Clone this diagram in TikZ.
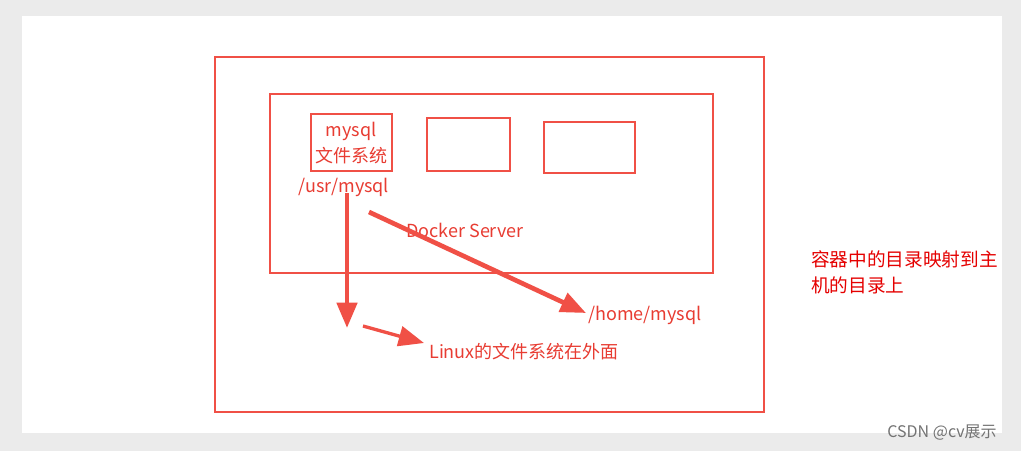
\documentclass[tikz,border=0pt]{standalone}
\usepackage{fontspec}
\setmainfont{Noto Sans CJK SC}
\usetikzlibrary{arrows.meta}
\definecolor{redline}{RGB}{240,80,70}
\definecolor{redtext}{RGB}{232,60,50}
\begin{document}
\begin{tikzpicture}[x=0.75pt,y=0.75pt,yscale=-1,xscale=1,
  box/.style={draw=redline,line width=2.2pt},
  lbl/.style={text=redtext,inner sep=0.75pt,font=\fontsize{13.5}{15}\selectfont},
  fat/.style={draw=redline,line width=3.5pt,-{Triangle[length=19pt,width=15pt]}}]
%Background
\fill[black!8] (0,0) rectangle (1021,451);
\fill[white] (22,16) rectangle (1002,433);
\useasboundingbox (0,0) rectangle (1021,451);

%Shapes: boxes
\draw[box] (215,57) rectangle (764,412);
\draw[box] (270,94) rectangle (713,273);
\draw[box] (311,114) rectangle (392,171);
\draw[box] (427,118) rectangle (510,171);
\draw[box] (544,122) rectangle (635,173);

% Text Nodes
\node[lbl] (mysql) at (351,131) {mysql};
\node[lbl] (fs) at (351,156) {文件系统};
\node[lbl] (usr) at (344,187) {/usr/mysql};
\node[lbl] (server) at (465,230) {Docker Server};
\node[lbl,anchor=west] (home) at (587,315) {/home/mysql};
\node[lbl,anchor=west] (linux) at (428,352) {Linux的文件系统在外面};
\node[lbl,anchor=north west,align=left,text=red!90!black,font=\fontsize{14}{20}\selectfont] (note) at (810,249) {容器中的目录映射到主\\机的目录上};
\node[inner sep=0pt,text=black!55,font=\fontsize{12}{14}\selectfont] (csdn) at (942,433) {CSDN @cv展示};

%Arrows
\coordinate (a1) at (347,193);
\coordinate (a2) at (347,328);
\coordinate (b1) at (369,212);
\coordinate (b2) at (586,313);
\coordinate (c1) at (363,326);
\coordinate (c2) at (424,343);
\draw[fat] (a1) -- (a2);
\draw[fat] (b1) -- (b2);
\draw[fat,line width=2.5pt] (c1) -- (c2);
\end{tikzpicture}
\end{document}
